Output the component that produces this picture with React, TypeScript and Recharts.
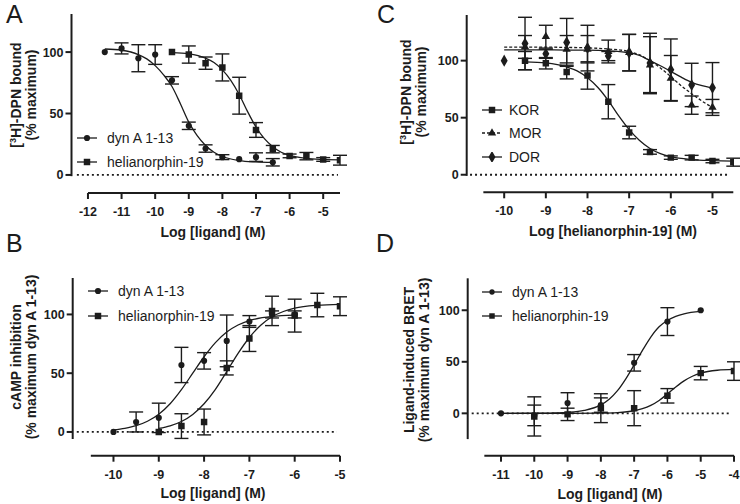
import React from "react"
import {
    ComposedChart,
    Line,
    Scatter,
    XAxis,
    YAxis,
    ErrorBar,
    ReferenceLine,
    Symbols,
} from "recharts"

const FONT = '"Liberation Sans", Arial, sans-serif'
const INK = "#1c1c1c"

// ---- Panel A: [3H]-DPN binding, KOR
const aDynX = [-11.5, -11, -10.5, -10, -9.5, -9, -8.5, -8, -7.5, -7, -6.5]
const aDynY = [100, 103, 95, 98, 77, 40, 21.5, 14.5, 12.8, 14.5, 10.3]
const aDynErr = [0, 4.5, 11, 8, 3, 3, 3, 2, 0, 3.5, 3]
const aDynFitX = [-11.5, -11, -10.5, -10.25, -10, -9.75, -9.5, -9.25, -9, -8.75, -8.5, -8.25, -8, -7.5, -7, -6.5]
const aDynFitY = [102.5, 101.5, 98, 94.5, 89, 81.5, 72, 58, 43, 32, 24, 18.5, 15, 11.7, 10.6, 10.2]

const aHeliX = [-9.5, -9, -8.5, -8, -7.5, -7, -6.5, -6, -5.5, -5, -4.5]
const aHeliY = [100, 98, 91, 87.5, 64.5, 36.6, 21, 15.5, 15.3, 12.6, 12]
const aHeliErr = [0, 7, 5, 11, 15, 6, 3, 1.5, 3, 1.5, 4]
const aHeliFitX = [-9.5, -9, -8.5, -8.25, -8, -7.75, -7.5, -7.25, -7, -6.75, -6.5, -6.25, -6, -5.5, -5, -4.5]
const aHeliFitY = [99.5, 98.5, 95, 91.5, 85.5, 77, 65.5, 51.5, 39, 29.5, 23, 18.5, 16, 13.5, 12.6, 12.2]

// ---- Panel B: cAMP inhibition
const bDynX = [-10, -9.5, -9, -8.5, -8, -7.5, -7, -6.5, -6]
const bDynY = [0, 8.5, 12, 57, 60.5, 77.5, 94, 100, 100]
const bDynErr = [0, 8.5, 12.5, 15, 7, 22, 5, 3, 3]
const bDynFitX = [-10, -9.75, -9.5, -9.25, -9, -8.75, -8.5, -8.25, -8, -7.75, -7.5, -7.25, -7, -6.5, -6]
const bDynFitY = [1.7, 3.1, 5.3, 9.1, 15.1, 24, 36, 50, 64, 76, 85, 91, 94.7, 98.3, 99.4]

const bHeliX = [-9, -8.5, -8, -7.5, -7, -6.5, -6, -5.5, -5]
const bHeliY = [0, 5, 8.5, 54.5, 79.5, 103, 99, 108, 107]
const bHeliErr = [0, 10.5, 11, 6, 11, 12.5, 14, 10, 8]
const bHeliFitX = [-9, -8.75, -8.5, -8.25, -8, -7.75, -7.5, -7.25, -7, -6.75, -6.5, -6.25, -6, -5.5, -5]
const bHeliFitY = [3, 5.2, 8.9, 14.9, 24, 36.3, 51.4, 66.9, 80.4, 90.8, 98, 102.5, 105.3, 107.8, 108.6]

// ---- Panel C: receptor selectivity of helianorphin-19
const cKorX = [-9.5, -9, -8.5, -8, -7.5, -7, -6.5, -6, -5.5, -5, -4.5]
const cKorY = [100, 97.7, 90, 87, 64, 37, 20, 15, 15, 12, 11]
const cKorErr = [8, 5, 6, 12, 15, 5.5, 2, 1.5, 2, 1.5, 3.5]
const cKorFitX = [-9.5, -9, -8.5, -8.25, -8, -7.75, -7.5, -7.25, -7, -6.75, -6.5, -6.25, -6, -5.5, -5, -4.5]
const cKorFitY = [99, 98, 94.5, 91, 85, 76.5, 65, 51.5, 39.5, 30, 23, 18.5, 15.8, 13.3, 12.4, 12]

const cMorX = [-9.5, -9, -8.5, -8, -7.5, -7, -6.5, -6, -5.5, -5]
const cMorY = [112, 121, 110, 110, 108, 107, 96, 84.5, 61, 59]
const cMorErr = [10, 10, 12, 12, 10, 16, 25, 20, 8, 7]
const cMorFitX = [-10, -9.5, -9, -8.5, -8, -7.5, -7, -6.75, -6.5, -6.25, -6, -5.75, -5.5, -5.25, -5]
const cMorFitY = [111.8, 111.8, 111.8, 111.6, 111.2, 110.2, 108, 105, 100, 93.5, 86, 78, 71, 64.5, 59]

const cDorX = [-10, -9.5, -9, -8.5, -8, -7.5, -7, -6.5, -6, -5.5, -5]
const cDorY = [100, 115, 106, 116, 111, 104, 107, 98, 92, 78.7, 76.3]
const cDorErr = [0, 23, 4, 21, 20, 4, 16, 26, 27, 19, 22]
const cDorFitX = [-10, -9.5, -9, -8.5, -8, -7.5, -7, -6.75, -6.5, -6.25, -6, -5.75, -5.5, -5.25, -5]
const cDorFitY = [109.4, 109.4, 109.4, 109.3, 109.2, 108.6, 107, 104.5, 100, 95.5, 90.5, 85.5, 81, 78, 76]

// ---- Panel D: ligand-induced BRET
const dDynX = [-11, -10, -9, -8, -7, -6, -5]
const dDynY = [0, -2, 10, 8, 49, 89, 100]
const dDynErr = [0, 10, 10, 7, 8, 13.5, 0]
const dDynFitX = [-11, -10, -9.5, -9, -8.5, -8, -7.75, -7.5, -7.25, -7, -6.75, -6.5, -6.25, -6, -5.75, -5.5, -5]
const dDynFitY = [0, 0.1, 0.3, 0.9, 2.8, 8.2, 13.7, 22, 33.5, 47, 61, 74, 84, 90, 94, 96.6, 98.9]

const dHeliX = [-10, -9, -8, -7, -6, -5, -4]
const dHeliY = [-3, -1, 5, 5, 17, 39, 41]
const dHeliErr = [19, 6, 14, 17, 7, 6.5, 9]
const dHeliFitX = [-11, -10, -9, -8, -7.5, -7, -6.75, -6.5, -6.25, -6, -5.75, -5.5, -5.25, -5, -4.5, -4]
const dHeliFitY = [0, 0, 0, 0.2, 0.7, 2.5, 4.5, 7.7, 12.5, 18.8, 25.5, 31.5, 36, 39, 41.8, 42.6]

const zip = (xs: number[], ys: number[], es?: number[]) =>
    xs.map((x, i) => ({ x, y: ys[i], err: es ? es[i] : 0 }))

type SymType = "circle" | "square" | "triangle" | "diamond"

interface Series {
    name: string
    points: { x: number; y: number; err: number }[]
    fit: { x: number; y: number; err: number }[]
    shape: SymType
    size: number
    dashed?: boolean
}

interface PanelProps {
    left: number
    top: number
    width: number
    height: number
    margin: { top: number; right: number; bottom: number; left: number }
    xDomain: [number, number] // left end = where the y axis sits
    xAxisSpan: [number, number] // drawn x axis line (offset Prism style)
    xTicks: number[]
    yDomain: [number, number] // bottom = where the x axis sits
    yAxisSpan: [number, number]
    zero: [number, number]
    series: Series[]
}

const TICK = 6
const GAP = 8

// tick label + tick mark (label position comes from recharts: axis + TICK + GAP)
const XTick = (props: any) => (
    <g>
        <line x1={props.x} x2={props.x} y1={props.y - TICK - GAP} y2={props.y - GAP} stroke={INK} strokeWidth={2} />
        <text x={props.x} y={props.y} dy="0.71em" textAnchor="middle" fontSize={12.5} fontWeight={700} fill={INK} fontFamily={FONT}>
            {props.payload.value}
        </text>
    </g>
)

const YTick = (props: any) => (
    <g>
        <line x1={props.x + 2} x2={props.x + 2 + TICK} y1={props.y} y2={props.y} stroke={INK} strokeWidth={2} />
        <text x={props.x} y={props.y} dy="0.355em" textAnchor="end" fontSize={12.5} fontWeight={700} fill={INK} fontFamily={FONT}>
            {props.payload.value}
        </text>
    </g>
)

function Panel(p: PanelProps) {
    const axisStyle = { stroke: INK, strokeWidth: 2 }
    return (
        <div style={{ position: "absolute", left: p.left, top: p.top }}>
            <ComposedChart width={p.width} height={p.height} margin={p.margin}>
                <XAxis
                    type="number"
                    dataKey="x"
                    domain={p.xDomain}
                    ticks={p.xTicks}
                    interval={0}
                    allowDataOverflow
                    height={30}
                    tickSize={TICK}
                    tickMargin={GAP}
                    tick={XTick}
                    axisLine={false}
                    tickLine={false}
                />
                <YAxis
                    type="number"
                    domain={p.yDomain}
                    ticks={[0, 50, 100]}
                    interval={0}
                    allowDataOverflow
                    width={40}
                    tickSize={TICK}
                    tickMargin={2}
                    tick={YTick}
                    axisLine={false}
                    tickLine={false}
                />
                {/* detached axis lines */}
                <ReferenceLine
                    segment={[{ x: p.xDomain[0], y: p.yAxisSpan[0] }, { x: p.xDomain[0], y: p.yAxisSpan[1] }]}
                    ifOverflow="visible"
                    {...axisStyle}
                />
                <ReferenceLine
                    segment={[{ x: p.xAxisSpan[0], y: p.yDomain[0] }, { x: p.xAxisSpan[1], y: p.yDomain[0] }]}
                    ifOverflow="visible"
                    {...axisStyle}
                />
                <ReferenceLine
                    segment={[{ x: p.zero[0], y: 0 }, { x: p.zero[1], y: 0 }]}
                    ifOverflow="visible"
                    stroke={INK}
                    strokeWidth={1.8}
                    strokeDasharray="2 3"
                />
                {p.series.map((s) => (
                    <Line
                        key={s.name + "-fit"}
                        data={s.fit}
                        dataKey="y"
                        type="monotone"
                        dot={false}
                        activeDot={false}
                        stroke={INK}
                        strokeWidth={1.3}
                        strokeDasharray={s.dashed ? "3 2" : undefined}
                        isAnimationActive={false}
                    />
                ))}
                {p.series.map((s) => (
                    <Scatter
                        key={s.name}
                        data={s.points}
                        dataKey="y"
                        isAnimationActive={false}
                        shape={(q: any) => (
                            <Symbols cx={q.cx} cy={q.cy} type={s.shape} size={s.size} fill={INK} />
                        )}
                    >
                        <ErrorBar
                            dataKey="err"
                            direction="y"
                            width={7}
                            stroke={INK}
                            strokeWidth={1.4}
                            isAnimationActive={false}
                        />
                    </Scatter>
                ))}
            </ComposedChart>
        </div>
    )
}

function LegendRow({ x, cy, textX, shape, size, label, dashed }: {
    x: number; cy: number; textX: number; shape: SymType; size: number; label: string; dashed?: boolean
}) {
    return (
        <div style={{ position: "absolute", left: x, top: cy - 10, height: 20, display: "flex", alignItems: "center" }}>
            <svg width={20} height={10} style={{ display: "block" }}>
                <line x1={0} y1={5} x2={20} y2={5} stroke={INK} strokeWidth={1.3} strokeDasharray={dashed ? "3 2" : undefined} />
                <Symbols cx={10} cy={5} type={shape} size={size} fill={INK} />
            </svg>
            <span style={{ marginLeft: textX - x - 20, fontSize: 14, fontFamily: FONT, color: INK, whiteSpace: "nowrap" }}>{label}</span>
        </div>
    )
}

function YTitle({ cx, cy, l1, l2 }: { cx: number; cy: number; l1: React.ReactNode; l2: string }) {
    return (
        <div
            style={{
                position: "absolute",
                left: cx,
                top: cy,
                transform: "translate(-50%, -50%) rotate(-90deg)",
                fontFamily: FONT,
                fontWeight: 700,
                fontSize: 14,
                lineHeight: "15px",
                textAlign: "center",
                whiteSpace: "nowrap",
                color: INK,
            }}
        >
            {l1}
            <br />
            {l2}
        </div>
    )
}

function XTitle({ cx, top, text }: { cx: number; top: number; text: string }) {
    return (
        <div
            style={{
                position: "absolute",
                left: cx,
                top,
                transform: "translateX(-50%)",
                fontFamily: FONT,
                fontWeight: 700,
                fontSize: 14,
                lineHeight: "14px",
                whiteSpace: "nowrap",
                color: INK,
            }}
        >
            {text}
        </div>
    )
}

function Letter({ x, y, t }: { x: number; y: number; t: string }) {
    return (
        <div style={{ position: "absolute", left: x, top: y, fontFamily: FONT, fontSize: 25, lineHeight: "25px", color: INK }}>
            {t}
        </div>
    )
}

const DPN = (
    <span>
        [<sup style={{ fontSize: 9, verticalAlign: "5px", lineHeight: 0 }}>3</sup>H]-DPN bound
    </span>
)

export default function App() {
    const dynA: Series = { name: "dyn A 1-13", points: zip(aDynX, aDynY, aDynErr), fit: zip(aDynFitX, aDynFitY), shape: "circle", size: 30 }
    const heliA: Series = { name: "helianorphin-19", points: zip(aHeliX, aHeliY, aHeliErr), fit: zip(aHeliFitX, aHeliFitY), shape: "square", size: 42 }
    const dynB: Series = { name: "dyn A 1-13", points: zip(bDynX, bDynY, bDynErr), fit: zip(bDynFitX, bDynFitY), shape: "circle", size: 30 }
    const heliB: Series = { name: "helianorphin-19", points: zip(bHeliX, bHeliY, bHeliErr), fit: zip(bHeliFitX, bHeliFitY), shape: "square", size: 42 }
    const kor: Series = { name: "KOR", points: zip(cKorX, cKorY, cKorErr), fit: zip(cKorFitX, cKorFitY), shape: "square", size: 42 }
    const mor: Series = { name: "MOR", points: zip(cMorX, cMorY, cMorErr), fit: zip(cMorFitX, cMorFitY), shape: "triangle", size: 30, dashed: true }
    const dor: Series = { name: "DOR", points: zip(cDorX, cDorY, cDorErr), fit: zip(cDorFitX, cDorFitY), shape: "diamond", size: 42 }
    const dynD: Series = { name: "dyn A 1-13", points: zip(dDynX, dDynY, dDynErr), fit: zip(dDynFitX, dDynFitY), shape: "circle", size: 30 }
    const heliD: Series = { name: "helianorphin-19", points: zip(dHeliX, dHeliY, dHeliErr), fit: zip(dHeliFitX, dHeliFitY), shape: "square", size: 42 }

    return (
        <div style={{ position: "absolute", left: 0, top: 0, width: 740, height: 504, background: "#fff", overflow: "hidden" }}>
            <Panel
                left={0} top={0} width={370} height={250}
                margin={{ top: 14, right: 30, left: 31.5, bottom: 27 }}
                xDomain={[-12.49, -4.5]} xAxisSpan={[-12, -4.5]} xTicks={[-12, -11, -10, -9, -8, -7, -6, -5]}
                yDomain={[-14.7, 131]} yAxisSpan={[-1, 131]} zero={[-12.33, -4.56]}
                series={[dynA, heliA]}
            />
            <Panel
                left={0} top={250} width={370} height={254}
                margin={{ top: 28, right: 30, left: 32.7, bottom: 18.3 }}
                xDomain={[-10.9, -5]} xAxisSpan={[-10.5, -5]} xTicks={[-10, -9, -8, -7, -6, -5]}
                yDomain={[-20.2, 131]} yAxisSpan={[-6, 131]} zero={[-10.81, -5.07]}
                series={[dynB, heliB]}
            />
            <Panel
                left={370} top={0} width={370} height={250}
                margin={{ top: 15, right: 6.7, left: 56.7, bottom: 27.7 }}
                xDomain={[-10.9, -4.5]} xAxisSpan={[-10.5, -4.5]} xTicks={[-10, -9, -8, -7, -6, -5]}
                yDomain={[-15.4, 140]} yAxisSpan={[-1, 140]} zero={[-10.82, -4.63]}
                series={[kor, mor, dor]}
            />
            <Panel
                left={370} top={250} width={370} height={254}
                margin={{ top: 28.3, right: 6, left: 57.7, bottom: 18.3 }}
                xDomain={[-12, -4]} xAxisSpan={[-11.5, -4]} xTicks={[-11, -10, -9, -8, -7, -6, -5, -4]}
                yDomain={[-41.1, 131]} yAxisSpan={[-25, 131]} zero={[-11.88, -4.13]}
                series={[dynD, heliD]}
            />

            <Letter x={6} y={2} t="A" />
            <Letter x={6} y={231} t="B" />
            <Letter x={377} y={1.5} t="C" />
            <Letter x={376} y={231} t="D" />

            <YTitle cx={24} cy={95} l1={DPN} l2="(% maximum)" />
            <YTitle cx={23.5} cy={357} l1="cAMP inhibition" l2="(% maximum dyn A 1-13)" />
            <YTitle cx={413.5} cy={92} l1={DPN} l2="(% maximum)" />
            <YTitle cx={417} cy={360} l1="Ligand-induced BRET" l2="(% maximum dyn A 1-13)" />

            <XTitle cx={213} top={225} text="Log [ligand] (M)" />
            <XTitle cx={213} top={486} text="Log [ligand] (M)" />
            <XTitle cx={613} top={224} text="Log [helianorphin-19] (M)" />
            <XTitle cx={610} top={487} text="Log [ligand] (M)" />

            <LegendRow x={77} cy={138} textX={107} shape="circle" size={30} label="dyn A 1-13" />
            <LegendRow x={77} cy={162} textX={107} shape="square" size={42} label="helianorphin-19" />
            <LegendRow x={88} cy={291} textX={118} shape="circle" size={30} label="dyn A 1-13" />
            <LegendRow x={88} cy={316} textX={118} shape="square" size={42} label="helianorphin-19" />
            <LegendRow x={482} cy={110} textX={509} shape="square" size={42} label="KOR" />
            <LegendRow x={482} cy={133} textX={509} shape="triangle" size={30} label="MOR" dashed />
            <LegendRow x={482} cy={157} textX={509} shape="diamond" size={42} label="DOR" />
            <LegendRow x={482} cy={292} textX={512} shape="circle" size={22} label="dyn A 1-13" />
            <LegendRow x={482} cy={316} textX={512} shape="square" size={30} label="helianorphin-19" />
        </div>
    )
}
